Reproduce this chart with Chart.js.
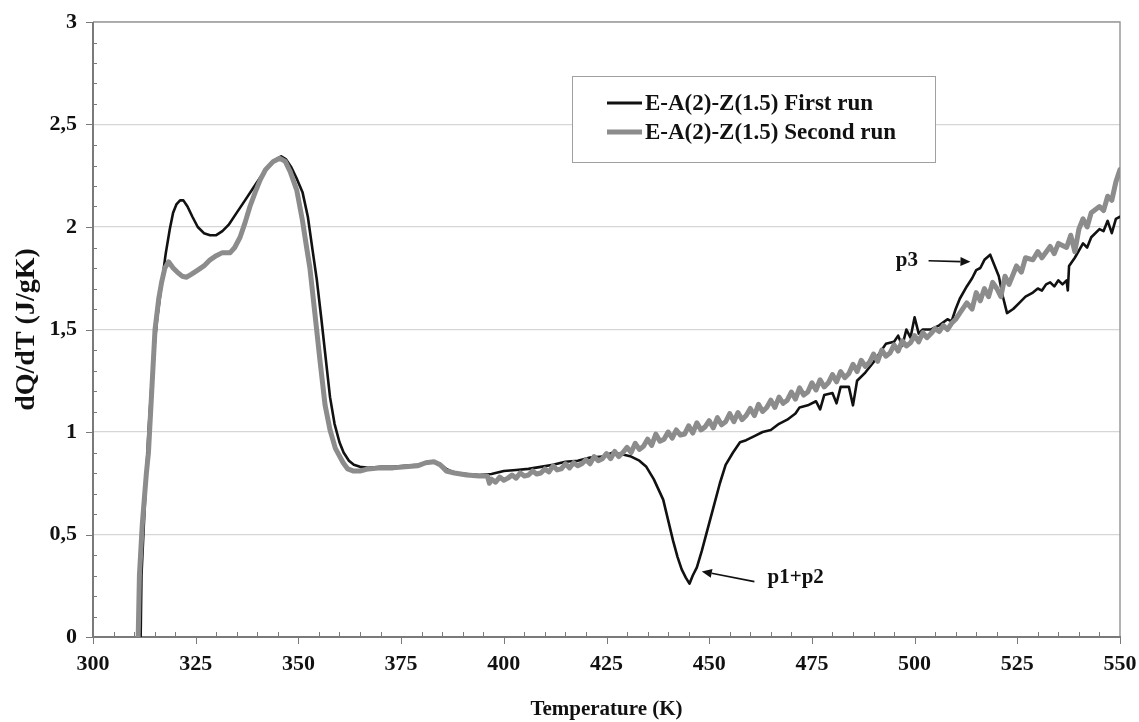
<!DOCTYPE html>
<html>
<head>
<meta charset="utf-8">
<script src="https://cdn.jsdelivr.net/npm/chart.js@4.4.1/dist/chart.umd.min.js"></script>
<style>
  html, body { margin: 0; padding: 0; background: #ffffff; }
  #wrap { width: 1139px; height: 722px; position: relative; }
</style>
</head>
<body>
<div id="wrap"><canvas id="c" width="1139" height="722"></canvas></div>
<script>
// ---- Data ----
const seriesLabels = ["E-A(2)-Z(1.5) First run", "E-A(2)-Z(1.5) Second run"];

const firstRunT = [311.6,311.8,312.5,313.5,314.6,315.6,316.7,317.7,318.7,319.5,320.3,321.2,322,323,324.2,325.5,327,328.5,330,331.5,333,335,337,339,341,343,344.5,345.8,347,348.3,349.5,351,352.3,353.5,354.5,355.6,356.7,357.7,358.8,360,361,362.3,363.5,365,367,370,373,376,379,381,383,384.5,386,388,391,394,397,400,403,406,409,412,415,418,421,424,426.6,429,431,433,434.7,436.5,438.8,440,441.2,442.3,443.3,444.3,445.2,446,447,448.2,449.4,451,452.6,454,455.8,457.5,459,461,463,465,467,469,471,472,474,476,477,478,480,481,482,484,485,486,488,490,492,493,495,496,497,498,499,500,501,502,504,506,508,509,510,511,512.7,514,515,516,517,518.4,519.5,520.5,521.5,522.5,524,525.5,527,528.8,530,531,532,533,534,535,536,537,537.3,537.6,539,541,542,543,545,546,547,548,549,550];
const firstRunV = [0,0.3,0.6,1.0,1.34,1.55,1.72,1.87,1.99,2.07,2.11,2.13,2.13,2.10,2.05,2.0,1.97,1.96,1.96,1.98,2.01,2.07,2.13,2.19,2.25,2.30,2.33,2.345,2.33,2.29,2.24,2.17,2.05,1.88,1.74,1.55,1.35,1.17,1.04,0.95,0.90,0.86,0.84,0.83,0.825,0.83,0.83,0.835,0.84,0.85,0.855,0.845,0.82,0.80,0.795,0.79,0.795,0.81,0.815,0.82,0.83,0.84,0.855,0.86,0.875,0.88,0.90,0.89,0.88,0.86,0.83,0.77,0.67,0.57,0.47,0.39,0.33,0.29,0.26,0.30,0.34,0.42,0.51,0.63,0.75,0.84,0.90,0.95,0.96,0.98,1.0,1.01,1.04,1.06,1.09,1.12,1.13,1.15,1.11,1.18,1.19,1.14,1.22,1.22,1.13,1.25,1.29,1.34,1.40,1.43,1.44,1.47,1.42,1.50,1.46,1.56,1.48,1.50,1.50,1.52,1.55,1.54,1.60,1.65,1.71,1.75,1.79,1.80,1.84,1.865,1.81,1.76,1.66,1.58,1.60,1.63,1.66,1.68,1.70,1.69,1.72,1.73,1.71,1.74,1.72,1.74,1.69,1.81,1.85,1.92,1.90,1.95,1.99,1.98,2.03,1.97,2.04,2.05];

const secondRunT = [
  311,311.3,312,313,313.5,314.3,315.1,316,316.7,317.5,
  318.4,319.5,320.5,321.7,322.8,324,325.5,327,328.5,330,
  331.5,333.4,334.5,335.8,337,338.2,339.5,340.7,342,343.9,
  345.5,346.8,348,349.6,351,352,352.8,354,355.3,356.5,
  357.7,359,360.9,362,363.3,365,367,370,373,376,
  379,381,383,384.5,386,388,391,394,396,396.5,
  397,398,399,400,401,402,403,404,405,406,
  407,408,409,410,411,412,413,414,415,416,
  417,418,419,420,421,422,423,424,425,426,
  427,428,429,430,431,432,433,434,435,436,
  437,438,439,440,441,442,443,444,445,446,
  447,448,449,450,451,452,453,454,455,456,
  457,458,459,460,461,462,463,464,465,466,
  467,468,469,470,471,472,473,474,475,476,
  477,478,479,480,481,482,483,484,485,486,
  487,488,489,490,491,492,493,494,495,496,
  497,498,499,500,501,502,503,504,505,506,
  507,508,509,510,511,512.7,514,515,516,517,
  518,519,520,521,522,523,524.8,526,527,528.8,
  530,531,533,534,535,537,538,539,540,541,
  542,543,545,546,547,548,549,550];
const secondRunV = [
  0,0.3,0.55,0.8,0.9,1.2,1.5,1.65,1.73,1.80,
  1.83,1.80,1.78,1.76,1.755,1.77,1.79,1.81,1.84,1.86,
  1.875,1.875,1.90,1.95,2.02,2.1,2.17,2.23,2.28,2.32,
  2.335,2.32,2.27,2.18,2.03,1.90,1.80,1.58,1.34,1.13,
  1.01,0.92,0.85,0.82,0.81,0.81,0.82,0.825,0.825,0.83,
  0.835,0.85,0.855,0.84,0.81,0.80,0.79,0.785,0.785,0.75,
  0.77,0.755,0.78,0.765,0.775,0.79,0.775,0.80,0.785,0.79,
  0.81,0.795,0.80,0.82,0.805,0.835,0.815,0.82,0.845,0.825,
  0.85,0.835,0.845,0.865,0.845,0.88,0.86,0.87,0.895,0.87,
  0.905,0.88,0.90,0.925,0.90,0.945,0.915,0.93,0.965,0.935,
  0.99,0.955,0.965,1.0,0.97,1.01,0.985,0.99,1.03,0.995,
  1.045,1.01,1.025,1.055,1.02,1.07,1.035,1.05,1.09,1.05,
  1.095,1.06,1.08,1.115,1.08,1.135,1.10,1.12,1.155,1.12,
  1.17,1.14,1.155,1.195,1.16,1.215,1.18,1.195,1.24,1.205,
  1.255,1.22,1.24,1.28,1.245,1.295,1.265,1.285,1.33,1.295,
  1.35,1.32,1.34,1.38,1.345,1.40,1.37,1.385,1.425,1.395,
  1.445,1.42,1.435,1.47,1.44,1.485,1.46,1.48,1.505,1.49,
  1.52,1.50,1.53,1.55,1.58,1.63,1.60,1.68,1.64,1.70,
  1.66,1.73,1.70,1.66,1.76,1.72,1.81,1.78,1.85,1.84,
  1.88,1.85,1.905,1.87,1.92,1.90,1.96,1.88,1.99,2.04,
  2.0,2.07,2.10,2.08,2.15,2.13,2.22,2.28];

const xTicks = [300,325,350,375,400,425,450,475,500,525,550];
const yTicks = [0,0.5,1,1.5,2,2.5,3];

// annotations: [label, textT, textV, arrowTailT, arrowTailV, arrowHeadT, arrowHeadV]
const annP3 = ["p3", 500.8, 1.835, 503.4, 1.835, 513.6, 1.83];
const annP12 = ["p1+p2", 464.2, 0.29, 461.0, 0.27, 448.2, 0.32];

if (firstRunT.length !== firstRunV.length || secondRunT.length !== secondRunV.length) {
  throw new Error('length mismatch ' + firstRunT.length + '/' + firstRunV.length + ' ' + secondRunT.length + '/' + secondRunV.length);
}

function pairs(xs, ys) { return xs.map((x, i) => ({ x: x, y: ys[i] })); }

const SERIF = '"Liberation Serif", "DejaVu Serif", serif';
const BLACK = '#111111';
const GREY = '#8c8c8c';

const decor = {
  id: 'decor',
  beforeDatasetsDraw(chart) {
    const { ctx, chartArea: a } = chart;
    const xs = chart.scales.x, ys = chart.scales.y;
    ctx.save();
    ctx.strokeStyle = '#9a9a9a';
    ctx.lineWidth = 1.5;
    ctx.beginPath();
    ctx.moveTo(a.left, a.top); ctx.lineTo(a.right, a.top); ctx.lineTo(a.right, a.bottom);
    ctx.stroke();
    ctx.strokeStyle = '#7a7a7a';
    ctx.lineWidth = 1;
    ctx.beginPath();
    for (let v = 0; v <= 30; v++) {
      const py = Math.round(ys.getPixelForValue(v / 10)) + 0.5;
      if (v % 5 === 0) { ctx.moveTo(a.left - 7, py); ctx.lineTo(a.left + 1, py); }
      else { ctx.moveTo(a.left, py); ctx.lineTo(a.left + 4, py); }
    }
    for (let t = 300; t <= 550; t += 5) {
      const px = Math.round(xs.getPixelForValue(t)) + 0.5;
      if ((t - 300) % 25 === 0) { ctx.moveTo(px, a.bottom - 1); ctx.lineTo(px, a.bottom + 7); }
      else { ctx.moveTo(px, a.bottom); ctx.lineTo(px, a.bottom - 5); }
    }
    ctx.stroke();
    ctx.strokeStyle = '#7a7a7a';
    ctx.lineWidth = 2;
    ctx.beginPath();
    ctx.moveTo(a.left, a.top); ctx.lineTo(a.left, a.bottom); ctx.lineTo(a.right, a.bottom);
    ctx.stroke();
    ctx.restore();
  },
  afterDatasetsDraw(chart) {
    const { ctx } = chart;
    const xs = chart.scales.x, ys = chart.scales.y;
    ctx.save();
    const lx = 572, ly = 76, lw = 363, lh = 86;
    ctx.fillStyle = '#ffffff';
    ctx.fillRect(lx, ly, lw, lh);
    ctx.strokeStyle = '#a0a0a0';
    ctx.lineWidth = 1;
    ctx.strokeRect(lx + 0.5, ly + 0.5, lw, lh);
    const items = [
      { label: chart.data.datasets[1].label, color: chart.data.datasets[1].borderColor, w: 3.2, y: 103 },
      { label: chart.data.datasets[0].label, color: chart.data.datasets[0].borderColor, w: 5, y: 132 }
    ];
    ctx.font = 'bold 23px ' + SERIF;
    ctx.textBaseline = 'middle';
    ctx.textAlign = 'left';
    items.forEach(it => {
      ctx.strokeStyle = it.color;
      ctx.lineWidth = it.w;
      ctx.beginPath(); ctx.moveTo(607, it.y); ctx.lineTo(642, it.y); ctx.stroke();
      ctx.fillStyle = BLACK;
      ctx.fillText(it.label, 645, it.y + 1);
    });
    function arrow(ann, align) {
      const tx = xs.getPixelForValue(ann[1]), ty = ys.getPixelForValue(ann[2]);
      const x1 = xs.getPixelForValue(ann[3]), y1 = ys.getPixelForValue(ann[4]);
      const x2 = xs.getPixelForValue(ann[5]), y2 = ys.getPixelForValue(ann[6]);
      ctx.fillStyle = BLACK;
      ctx.font = 'bold 21px ' + SERIF;
      ctx.textAlign = align;
      ctx.textBaseline = 'middle';
      ctx.fillText(ann[0], tx, ty);
      ctx.strokeStyle = BLACK;
      ctx.lineWidth = 1.6;
      const ang = Math.atan2(y2 - y1, x2 - x1);
      const hl = 10, hw = 4.5;
      const bx = x2 - hl * Math.cos(ang), by = y2 - hl * Math.sin(ang);
      ctx.beginPath(); ctx.moveTo(x1, y1); ctx.lineTo(bx, by); ctx.stroke();
      ctx.beginPath();
      ctx.moveTo(x2, y2);
      ctx.lineTo(bx + hw * Math.sin(ang), by - hw * Math.cos(ang));
      ctx.lineTo(bx - hw * Math.sin(ang), by + hw * Math.cos(ang));
      ctx.closePath(); ctx.fill();
    }
    arrow(annP3, 'right');
    arrow(annP12, 'left');
    ctx.restore();
  }
};

new Chart(document.getElementById('c'), {
  type: 'line',
  data: {
    datasets: [
      { label: seriesLabels[1], data: pairs(secondRunT, secondRunV), borderColor: GREY, borderWidth: 5, order: 0 },
      { label: seriesLabels[0], data: pairs(firstRunT, firstRunV), borderColor: BLACK, borderWidth: 2.6, order: 1 }
    ]
  },
  options: {
    responsive: false,
    animation: false,
    layout: { padding: { left: 0, right: 19, top: 22, bottom: 0 } },
    elements: {
      point: { radius: 0, hoverRadius: 0 },
      line: { tension: 0, borderJoinStyle: 'round', borderCapStyle: 'round', fill: false }
    },
    plugins: { legend: { display: false }, tooltip: { enabled: false } },
    scales: {
      x: {
        type: 'linear', min: 300, max: 550,
        afterBuildTicks: s => { s.ticks = xTicks.map(v => ({ value: v })); },
        afterFit: s => { s.height = 85; s.paddingLeft = 0; s.paddingRight = 0; },
        grid: { display: true, drawOnChartArea: false, drawTicks: false, color: 'rgba(0,0,0,0)' },
        border: { display: false },
        ticks: { color: BLACK, font: { family: SERIF, size: 22, weight: 'bold' }, padding: 14, maxRotation: 0 },
        title: { display: true, text: 'Temperature (K)', color: BLACK, font: { family: SERIF, size: 21, weight: 'bold' }, padding: { top: 2, bottom: 0 } }
      },
      y: {
        type: 'linear', min: 0, max: 3,
        afterBuildTicks: s => { s.ticks = yTicks.map(v => ({ value: v })); },
        afterFit: s => { s.width = 93; s.paddingTop = 0; s.paddingBottom = 0; },
        grid: { color: '#d6d6d6', lineWidth: 1.2, drawTicks: false },
        border: { display: false },
        ticks: { color: BLACK, font: { family: SERIF, size: 22, weight: 'bold' }, padding: 16,
          callback: v => String(v).replace('.', ',') },
        title: { display: true, text: 'dQ/dT (J/gK)', color: BLACK, font: { family: SERIF, size: 28, weight: 'bold' }, padding: { top: 10, bottom: 0 } }
      }
    }
  },
  plugins: [decor]
});
</script>
</body>
</html>
